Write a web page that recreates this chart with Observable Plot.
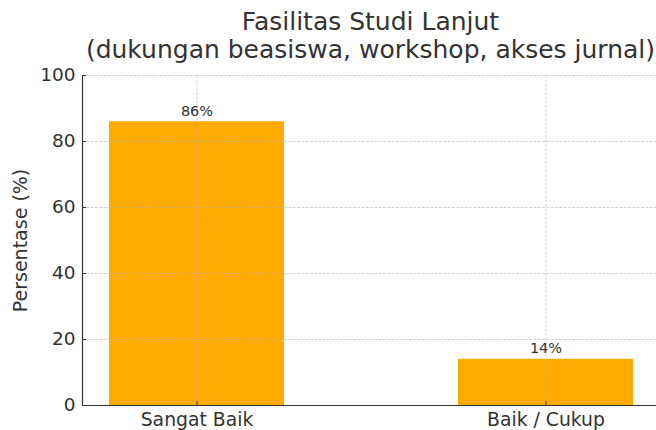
<!DOCTYPE html>
<html><head><meta charset="utf-8">
<script src="https://cdn.jsdelivr.net/npm/d3@7"></script>
<script src="https://cdn.jsdelivr.net/npm/@observablehq/plot@0.6"></script>
<style>
html,body{margin:0;padding:0;background:#fff;overflow:hidden;}
#wrap{position:relative;width:656px;height:430px;}
#title{position:absolute;left:82px;top:0;font-family:"DejaVu Sans";font-size:25px;line-height:28px;color:#333;text-align:center;width:577px;padding-top:8px;white-space:nowrap;}
#chart svg{display:block;overflow:visible;}
</style></head><body>
<div id="wrap">
<div id="chart"></div>
<div id="title">Fasilitas Studi Lanjut<br>(dukungan beasiswa, workshop, akses jurnal)</div>
</div>
<script>
const categories = ["Sangat Baik", "Baik / Cukup"];
const values = [86, 14];
const valueLabels = ["86%", "14%"];
const yTicks = [0, 20, 40, 60, 80, 100];
const yLabel = "Persentase (%)";

const data = categories.map((c, i) => ({category: c, value: values[i], label: valueLabels[i]}));
const gridStyle = {stroke: "#b0b0b0", strokeOpacity: 0.7, strokeDasharray: "3,1.3", strokeWidth: 0.8};

const chart = Plot.plot({
  width: 656, height: 430,
  marginLeft: 82, marginRight: -3, marginTop: 75, marginBottom: 25,
  style: {fontFamily: "DejaVu Sans", color: "#333", background: "transparent", overflow: "visible"},
  x: {domain: categories, paddingInner: 0.5, paddingOuter: 0.075, align: 0.5},
  y: {domain: [0, 100]},
  marks: [
    Plot.barY(data, {x: "category", y: "value", fill: "#ffaa00"}),
    Plot.gridY(yTicks, gridStyle),
    Plot.gridX(categories, gridStyle),
    Plot.text(data, {x: "category", y: "value", text: "label", dy: -6, lineAnchor: "bottom", fontSize: 14.5, fill: "#333"}),
    Plot.axisY(yTicks, {tickSize: -4, tickPadding: 11, fontSize: 18.5, tickFormat: d => String(d), label: null}),
    Plot.axisY({ticks: [], tickSize: 0, fontSize: 19, label: yLabel, labelAnchor: "center", labelArrow: "none", labelOffset: 69}),
    Plot.axisX({tickSize: -4, tickPadding: 11, fontSize: 18.8, label: null}),
    Plot.ruleY([0], {stroke: "#333", strokeWidth: 1.2}),
    Plot.frame({anchor: "left", stroke: "#333", strokeWidth: 1.2})
  ]
});
document.getElementById("chart").appendChild(chart);
</script>
</body></html>
